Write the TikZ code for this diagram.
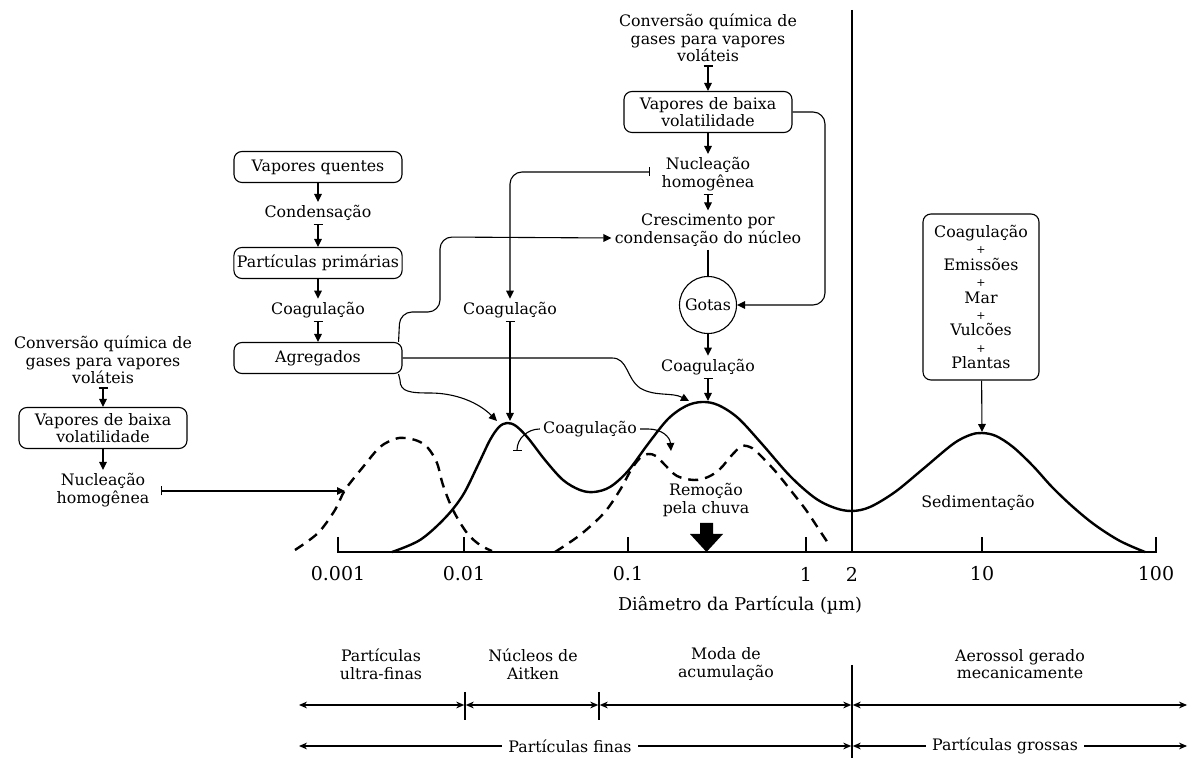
\documentclass[tikz,border=0pt]{standalone}
\usepackage{fontspec}
\setmainfont{DejaVu Serif}
\usetikzlibrary{arrows.meta,calc}
\begin{document}
\begin{tikzpicture}[x=0.5pt,y=-0.5pt,
 txt/.style={font=\fontsize{7.9}{8.8}\selectfont, align=center, inner sep=1.5pt},
 box/.style={txt, draw, line width=0.55pt, rounded corners=4pt, minimum width=84pt, minimum height=15.5pt},
 tallbox/.style={box, minimum height=20.5pt},
 conn/.style={line width=0.55pt},
 arr/.style={conn, -{Triangle[length=4pt,width=3.8pt]}},
 bararr/.style={conn, {Bar[width=4.5pt]}-{Triangle[length=4pt,width=3.8pt]}},
 curve/.style={line width=1.2pt, line join=round, line cap=round},
 dcurve/.style={line width=1.2pt, dash pattern=on 5pt off 3.5pt},
 axisline/.style={line width=1pt},
 ticklab/.style={txt, font=\fontsize{9.5}{10}\selectfont},
 twoarr/.style={conn, {Stealth[length=4pt,width=3.4pt]}-{Stealth[length=4pt,width=3.4pt]}},
]
\useasboundingbox (0,0) rectangle (1189,758);

% ---------- top centre column ----------
\node[txt] (convT) at (708,38) {Conversão química de\\gases para vapores\\voláteis};
\node[tallbox] (vbT) at (708,112) {Vapores de baixa\\volatilidade};
\node[txt] (nucT) at (708,174) {Nucleação\\homogênea};
\node[txt] (cresc) at (708,230) {Crescimento por\\condensação do núcleo};
\node[txt, draw, circle, line width=0.55pt, minimum size=28.5pt, inner sep=0pt] (gotas) at (708,305) {Gotas};
\node[txt] (coagT) at (708,367) {Coagulação};
\coordinate (pk2) at (708,401);

\draw[bararr] (convT) -- (vbT);
\draw[arr] (vbT) -- (nucT);
\draw[bararr] (nucT) -- (cresc);
\draw[conn] (cresc) -- (gotas);
\draw[arr] (gotas) -- (coagT);
\draw[bararr] (coagT) -- (pk2);
\draw[arr, rounded corners=6pt] (vbT.east) -| (825,305) -- (gotas.east);

% ---------- left column ----------
\node[box] (vq) at (318,167) {Vapores quentes};
\node[txt] (cond) at (318,213) {Condensação};
\node[box] (pp) at (318,263) {Partículas primárias};
\node[txt] (coagL) at (318,310) {Coagulação};
\node[box] (ag) at (318,358) {Agregados};
\draw[arr] (vq) -- (cond);
\draw[bararr] (cond) -- (pp);
\draw[arr] (pp) -- (coagL);
\draw[bararr] (coagL) -- (ag);

% ---------- middle coagulation ----------
\node[txt] (coagM) at (510,310) {Coagulação};
\coordinate (pk1) at (510,421);
\draw[bararr, rounded corners=6pt] ([xshift=-4pt,yshift=1pt]nucT.west) -| (coagM.north);
\draw[bararr] (coagM) -- (pk1);

% ---------- connectors from Agregados ----------
\coordinate (pk1a) at (497,421);
\coordinate (pk2a) at (689,401);
\draw[arr, rounded corners=6pt] ([xshift=-2pt]ag.north east) -- (400,312) -- (440,312) -- (440,237) -- ([yshift=-4pt]cresc.west);
\draw[arr] (ag.east) -- (612,358) .. controls (628,358) and (626,378) .. (640,388) .. controls (655,397) and (672,392) .. (pk2a);
\draw[arr] ([xshift=-2pt]ag.south east) -- (400,380) .. controls (400,392) and (410,393) .. (430,393) .. controls (455,393) and (478,402) .. (pk1a);

% ---------- far left ----------
\node[txt] (convL) at (103,360) {Conversão química de\\gases para vapores\\voláteis};
\node[tallbox] (vbL) at (103,428) {Vapores de baixa\\volatilidade};
\node[txt] (nucL) at (103,490) {Nucleação\\homogênea};
\coordinate (d1) at (345,491);
\draw[bararr] (convL) -- (vbL);
\draw[arr] (vbL) -- (nucL);
\draw[bararr] ([xshift=4pt,yshift=-0.5pt]nucL.east) -- (d1);

% ---------- right sources ----------
\node[txt, draw, line width=0.55pt, rounded corners=4pt, minimum width=58pt, minimum height=83pt] (src) at (981,297)
 {Coagulação\\[-0.6pt]{\fontsize{5.5}{6}\selectfont +}\\[-0.6pt]Emissões\\[-0.6pt]{\fontsize{5.5}{6}\selectfont +}\\[-0.6pt]Mar\\[-0.6pt]{\fontsize{5.5}{6}\selectfont +}\\[-0.6pt]Vulcões\\[-0.6pt]{\fontsize{5.5}{6}\selectfont +}\\[-0.6pt]Plantas};
\coordinate (pk3) at (982,432);
\draw[arr] (src) -- (pk3);
\node[txt] (sed) at (978,503) {Sedimentação};

% ---------- vertical divider ----------
\coordinate (vtop) at (852,10);
\coordinate (vbot) at (852,552);
\draw[axisline] (vtop) -- (vbot);

% ---------- axis ----------
\draw[axisline] (338,537) -- (338,552) -- (1156,552) -- (1156,537);
\foreach \xx in {464,628,806,982} \draw[axisline] (\xx,552) -- (\xx,537);
\node[ticklab] (t1) at (338,574) {0.001};
\node[ticklab] (t2) at (464,574) {0.01};
\node[ticklab] (t3) at (628,574) {0.1};
\node[ticklab] (t4) at (806,574) {1};
\node[ticklab] (t5) at (852,574) {2};
\node[ticklab] (t6) at (982,574) {10};
\node[ticklab] (t7) at (1156,574) {100};
\node[txt, font=\fontsize{8.8}{10}\selectfont] (xlab) at (740,605) {Diâmetro da Partícula (µm)};

% ---------- curves ----------
\draw[curve] plot[smooth, tension=0.55] coordinates {(392,552) (420,540) (445,518) (463,495) (478,465) (490,440) (499,427) (507,423) (516,426) (528,438) (545,460) (563,480) (580,490) (594,492) (610,487) (628,471) (648,444) (668,419) (686,406) (702,402) (718,405) (738,418) (762,444) (790,476) (815,498) (835,508) (852,511) (870,507) (895,492) (923,469) (953,444) (970,435) (982,433) (996,436) (1013,447) (1033,466) (1052,487) (1073,507) (1095,525) (1120,541) (1145,552)};
\draw[dcurve] plot[smooth, tension=0.55] coordinates {(295,550) (318,533) (335,510) (345,490) (363,467) (380,447) (395,439) (405,438) (418,441) (428,448) (437,463) (443,485) (453,510) (467,533) (480,545) (492,551)};
\draw[dcurve] plot[smooth, tension=0.55] coordinates {(555,552) (580,535) (604,513) (620,490) (631,470) (640,458) (648,454) (656,456) (665,465) (677,476) (694,480) (708,477) (720,469) (732,455) (742,446) (752,448) (760,455) (776,472) (792,492) (806,510) (818,528) (830,546)};

% ---------- coagulation between modes ----------
\node[txt] (coagP) at (590,429) {Coagulação};
\coordinate (barP) at (517,451);
\coordinate (tipP) at (671,451);
\draw[conn, -{Bar[width=4.5pt]}] (coagP.west) .. controls (528,429) and (517,438) .. (barP);
\draw[arr] (coagP.east) -- (648,429) .. controls (662,429) and (670,437) .. (tipP);

% ---------- rain removal ----------
\node[txt] (remo) at (706,500) {Remoção\\pela chuva};
\fill (700,523) -- (713,523) -- (713,534) -- (723,534) -- (706.5,552) -- (690,534) -- (700,534) -- cycle;

% ---------- bottom classification ----------
\node[txt] (c1) at (381,664) {Partículas\\ultra-finas};
\node[txt] (c2) at (533,664) {Núcleos de\\Aitken};
\node[txt] (c3) at (726,664) {Moda de\\acumulação};
\node[txt] (c4) at (1020,664) {Aerossol gerado\\mecanicamente};
\coordinate (r1a) at (299,705);
\coordinate (r1b) at (465,705);
\coordinate (r1c) at (599,705);
\coordinate (r1d) at (852,705);
\coordinate (r1e) at (1187,705);
\draw[conn] (465,692) -- (465,720);
\draw[conn] (599,692) -- (599,720);
\draw[conn] (852,665) -- (852,758);
\draw[twoarr] (r1a) -- ([xshift=-0.4pt]r1b);
\draw[twoarr] ([xshift=0.4pt]r1b) -- ([xshift=-0.4pt]r1c);
\draw[twoarr] ([xshift=0.4pt]r1c) -- ([xshift=-0.4pt]r1d);
\draw[twoarr] ([xshift=0.4pt]r1d) -- (r1e);
\coordinate (r2a) at (299,746);
\coordinate (r2b) at (852,746);
\coordinate (r2c) at (1187,746);
\draw[twoarr] (r2a) -- ([xshift=-0.4pt]r2b);
\draw[twoarr] ([xshift=0.4pt]r2b) -- (r2c);
\node[txt, fill=white, inner xsep=3pt] (fin) at (570,746) {Partículas finas};
\node[txt, fill=white, inner xsep=3pt] (gro) at (1005,746) {Partículas grossas};
\end{tikzpicture}
\end{document}
